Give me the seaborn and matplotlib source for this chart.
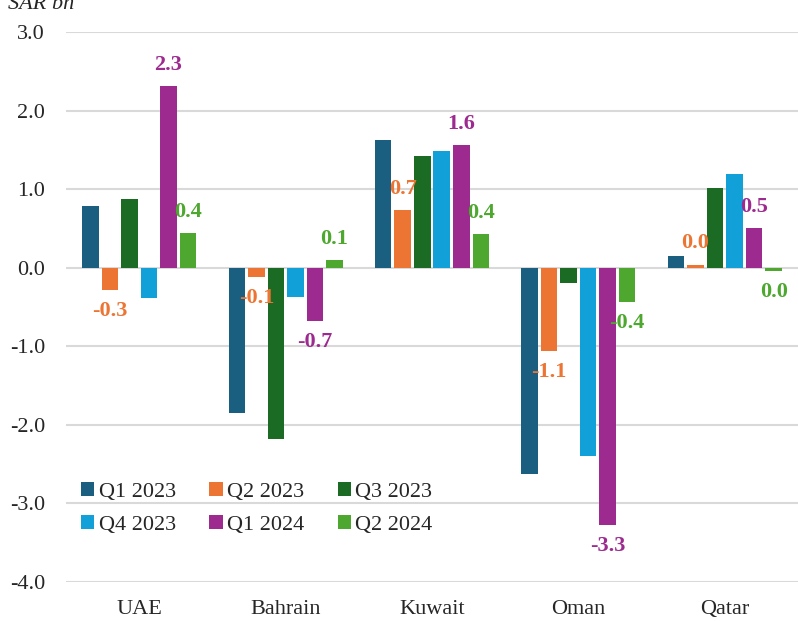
import pandas as pd
import matplotlib.pyplot as plt
import seaborn as sns

countries = ["UAE", "Bahrain", "Kuwait", "Oman", "Qatar"]
quarters = ["Q1 2023", "Q2 2023", "Q3 2023", "Q4 2023", "Q1 2024", "Q2 2024"]

q1_2023 = [0.78, -1.85, 1.62, -2.63, 0.15]
q2_2023 = [-0.28, -0.12, 0.73, -1.06, 0.04]
q3_2023 = [0.88, -2.18, 1.42, -0.19, 1.02]
q4_2023 = [-0.39, -0.37, 1.48, -2.40, 1.19]
q1_2024 = [2.31, -0.68, 1.56, -3.27, 0.51]
q2_2024 = [0.44, 0.10, 0.43, -0.44, -0.04]

colors = ["#1a5e80", "#ec7533", "#1b6b25", "#11a0d8", "#9c2a8f", "#4ea72e"]
labelled = ["Q2 2023", "Q1 2024", "Q2 2024"]

series = [q1_2023, q2_2023, q3_2023, q4_2023, q1_2024, q2_2024]
rows = []
for q, vals in zip(quarters, series):
    for c, v in zip(countries, vals):
        rows.append({"country": c, "quarter": q, "value": v})
df = pd.DataFrame(rows)

sns.set_style("white")
plt.rcParams['font.family'] = ['Liberation Serif', 'DejaVu Serif']

fig = plt.figure(figsize=(7.98, 6.21), dpi=100)
ax = fig.add_axes([66 / 798, 39 / 621, 1 - 66 / 798, (582 - 32) / 621])

sns.barplot(data=df, x="country", y="value", hue="quarter", order=countries,
            hue_order=quarters, palette=colors, saturation=1, gap=0.15,
            width=0.8, ax=ax, edgecolor="none", zorder=3)

# data labels only for three of the series
for cont, q, col in zip(ax.containers, quarters, colors):
    if q in labelled:
        labels = []
        for v in cont.datavalues:
            s = f"{v:.1f}"
            if s == "-0.0":
                s = "0.0"
            labels.append(s)
        ax.bar_label(cont, labels=labels, padding=8, color=col,
                     fontsize=16, fontweight="bold")

ax.set_ylim(-4, 3)
ax.set_xlim(-0.5, 4.5)
ticks = [3, 2, 1, 0, -1, -2, -3, -4]
ax.set_yticks(ticks)
ax.set_yticklabels([f"{t:.1f}" for t in ticks])
ax.tick_params(axis="y", length=0, pad=15, labelsize=16)
ax.tick_params(axis="x", length=0, pad=13, labelsize=16)
ax.set_xlabel("")
ax.set_ylabel("")
ax.grid(axis="y", color="#d9d9d9", linewidth=1.5, zorder=0)
for s in ax.spines.values():
    s.set_visible(False)

# legend filled row by row: Q1, Q2, Q3 on top; Q4, Q1 24, Q2 24 below
handles, labels = ax.get_legend_handles_labels()
order = [0, 3, 1, 4, 2, 5]
ax.legend([handles[i] for i in order], [labels[i] for i in order],
          loc="upper left", bbox_to_anchor=(81 / 798, 1 - 482 / 621),
          bbox_transform=fig.transFigure, ncol=3, frameon=False, fontsize=16,
          handlelength=0.6, handleheight=0.6, handletextpad=0.2,
          columnspacing=1.5, labelspacing=0.6, borderpad=0, borderaxespad=0)

fig.text(8 / 798, 1 - 9 / 621, "SAR bn", fontsize=16, style="italic",
         va="baseline", ha="left")

plt.savefig("out.png", dpi=100)
